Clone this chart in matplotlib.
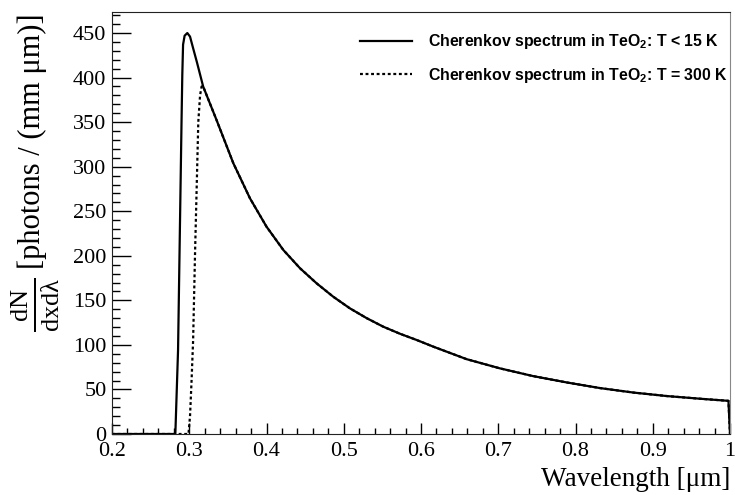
import matplotlib
matplotlib.use("Agg")
import matplotlib.pyplot as plt
from matplotlib.ticker import MultipleLocator, FuncFormatter

plt.rcParams['font.family'] = ['Liberation Serif', 'DejaVu Serif']
plt.rcParams['mathtext.fontset'] = 'custom'
plt.rcParams['mathtext.rm'] = 'Liberation Serif'
plt.rcParams['mathtext.it'] = 'Liberation Serif:italic'
plt.rcParams['mathtext.bf'] = 'Liberation Sans:bold'

# Rising edges
cold_rise_wl = [0.200, 0.282, 0.2855, 0.290, 0.291, 0.292, 0.294, 0.2975, 0.301, 0.305, 0.310]
cold_rise_val = [0, 0, 94, 350, 403, 437, 447, 450, 446, 433, 417]
warm_rise_wl = [0.200, 0.299, 0.301, 0.303, 0.305, 0.3075, 0.310, 0.3117, 0.314, 0.316]
warm_rise_val = [0, 0, 20, 60, 105, 203, 290, 350, 380, 390]

# Common tail, both curves sit on top of each other here
tail_wl = [0.318, 0.3355, 0.357, 0.3786, 0.400, 0.4218, 0.4434, 0.465, 0.4865, 0.508,
           0.5297, 0.5512, 0.5728, 0.5944, 0.616, 0.659, 0.702, 0.745, 0.789, 0.832,
           0.875, 0.918, 0.961, 0.998, 1.0]
tail_val = [390, 352, 304, 264.5, 232.7, 206.5, 186, 169, 154, 141,
            130, 120.4, 112.5, 105.5, 98, 84, 73.7, 65, 57.8, 51.5,
            46.5, 42.6, 39.6, 37.2, 0]

cold_label = r'Cherenkov spectrum in TeO$_{\mathbf{2}}$: T < 15 K'
warm_label = r'Cherenkov spectrum in TeO$_{\mathbf{2}}$: T = 300 K'

fig = plt.figure(figsize=(7.35, 4.95), dpi=100)
ax = fig.add_axes([112/735, 1 - 434/495, 618/735, 422/495])

ax.plot(cold_rise_wl + tail_wl, cold_rise_val + tail_val, color='black', lw=1.6,
        label=cold_label)
ax.plot(warm_rise_wl + tail_wl, warm_rise_val + tail_val, color='black', lw=1.6,
        ls=(0, (1.3, 1.2)), label=warm_label)

ax.set_xlim(0.2, 1.0)
ax.set_ylim(0, 473.6)

ax.xaxis.set_major_locator(MultipleLocator(0.1))
ax.xaxis.set_minor_locator(MultipleLocator(0.02))
ax.yaxis.set_major_locator(MultipleLocator(50))
ax.yaxis.set_minor_locator(MultipleLocator(10))
ax.xaxis.set_major_formatter(FuncFormatter(lambda v, p: f'{v:g}'))
ax.yaxis.set_major_formatter(FuncFormatter(lambda v, p: f'{v:g}'))

ax.tick_params(which='both', direction='in', top=False, right=False,
               labelsize=16, pad=4, width=1)
ax.tick_params(axis='x', which='both', pad=6)
ax.tick_params(axis='x', which='major', length=8)
ax.tick_params(axis='x', which='minor', length=4)
ax.tick_params(axis='y', which='major', length=14)
ax.tick_params(axis='y', which='minor', length=6)

for side in ['left', 'bottom', 'top']:
    ax.spines[side].set_color('#222222')
ax.spines['right'].set_color('#888888')

ax.set_xlabel('Wavelength [μm]', fontsize=19.5, loc='right', labelpad=4)

# y label: big fraction plus units, as two pieces
fig.text(35/735, 1 - 305/495, r'$\frac{\mathrm{dN}}{\mathrm{dxdλ}}$',
         rotation=90, ha='center', va='center', fontsize=27)
fig.text(32/735, 1 - 13/495, '[photons / (mm μm)]',
         rotation=90, ha='center', va='top', fontsize=22)

ax.legend(loc='upper right', bbox_to_anchor=(0.997, 0.952), frameon=False,
          borderaxespad=0, borderpad=0,
          prop={'family': 'Liberation Sans', 'weight': 'bold', 'size': 11.4},
          handlelength=3.3, handletextpad=1.0, labelspacing=0.9)

fig.savefig('out.png', dpi=100)
